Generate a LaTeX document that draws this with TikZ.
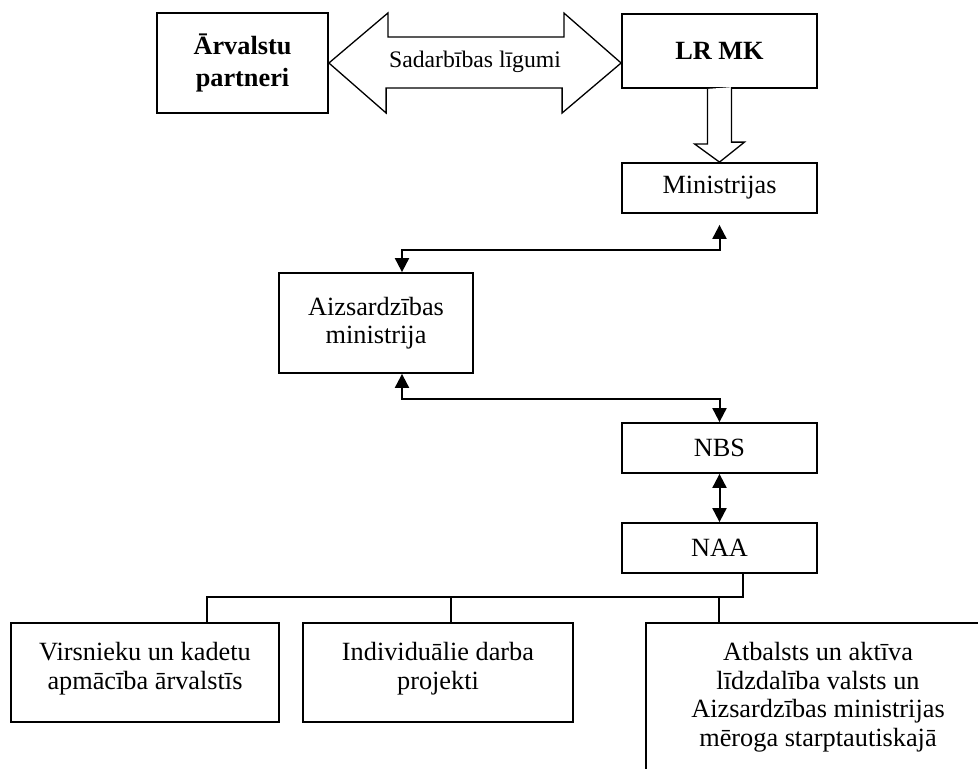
\documentclass[tikz,border=0pt]{standalone}
\usepackage{fontspec}
\setmainfont{Liberation Serif}
\usepackage{tikz}
\usetikzlibrary{arrows.meta,positioning}

\begin{document}
\begin{tikzpicture}
    % px-like units, y pointing down
    [x=1pt,y=-1pt,
     box/.style={draw,line width=1.8pt,inner sep=0pt,align=center,font=\fontsize{26.3}{28.5}\selectfont},
     bbox/.style={box,font=\fontsize{26.3}{32}\selectfont\bfseries},
     txt/.style={inner sep=0pt,align=center,font=\fontsize{26.3}{28.5}\selectfont},
     fat/.style={draw,line width=1.3pt,fill=white},
     link/.style={line width=2pt,{Triangle[length=14pt,width=14pt]}-{Triangle[length=14pt,width=14pt]}},
     tree/.style={line width=1.4pt}]

    \useasboundingbox (0,0) rectangle (978,769);
    \clip (0,0) rectangle (978,769);

    \node[bbox,minimum width=171pt,minimum height=100pt] (partneri) at (242.5,63) {Ārvalstu\\partneri};
    \node[bbox,minimum width=195pt,minimum height=74pt] (lrmk) at (719.5,51) {LR MK};
    \node[box,minimum width=195pt,minimum height=50pt] (mini) at (719.5,188) {Ministrijas};
    \node[box,minimum width=194pt,minimum height=100pt] (aim) at (376,323) {Aizsardzības\\ministrija};
    \node[box,minimum width=195pt,minimum height=50pt] (nbs) at (719.5,448) {NBS};
    \node[box,minimum width=195pt,minimum height=50pt] (naa) at (719.5,548) {NAA};

    \node[box,minimum width=268pt,minimum height=99pt] (train) at (145,672.5) {};
    \node[box,minimum width=270pt,minimum height=99pt] (proj) at (438,672.5) {};
    \node[box,minimum width=344pt,minimum height=200pt] (coop) at (818,723) {};

    \node[txt,below=20pt of train.north] (traintxt) {Virsnieku un kadetu\\apmācība ārvalstīs};
    \node[txt,below=20pt of proj.north] (projtxt) {Individuālie darba\\projekti};
    \node[txt,below=20pt of coop.north] (cooptxt) {Atbalsts un aktīva\\līdzdalība valsts un\\Aizsardzības ministrijas\\mēroga starptautiskajā};

    % block arrows
    \coordinate (L) at (partneri.east);
    \coordinate (R) at (partneri.east -| lrmk.west);
    \draw[fat] (L) -- ++(59,-50) -- ++(0,24) -- ++(176,0) -- ++(0,-24) -- (R)
        -- ++(-59,50) -- ++(0,-25) -- ++(-176,0) -- ++(0,25) -- cycle;
    \node[txt,font=\fontsize{23.7}{26}\selectfont] (deal) at (475,62) {Sadarbības līgumi};

    \draw[fat] ([xshift=-12pt]lrmk.south) -- ++(0,55) -- ++(-13,0) -- (mini.north)
        -- ++(25,-20) -- ++(-13,0) -- ++(0,-55);

    % connectors
    \draw[link,shorten <=11pt] (mini.south) -- ++(0,36) -| ([xshift=26pt]aim.north);
    \draw[link] ([xshift=26pt]aim.south) -- ++(0,25) -| (nbs.north);
    \draw[link] (nbs) -- (naa);

    \coordinate (bus) at (0,597);
    \draw[tree] ([xshift=23.5pt]naa.south) |- ([xshift=62pt]train.north |- bus) -- ([xshift=62pt]train.north);
    \draw[tree] ([xshift=13pt]proj.north |- bus) -- ([xshift=13pt]proj.north);
    \draw[tree] ([xshift=-0.5pt]naa.south |- bus) -- ([xshift=-0.5pt]naa.south |- coop.north);
  \end{tikzpicture}
\end{document}
